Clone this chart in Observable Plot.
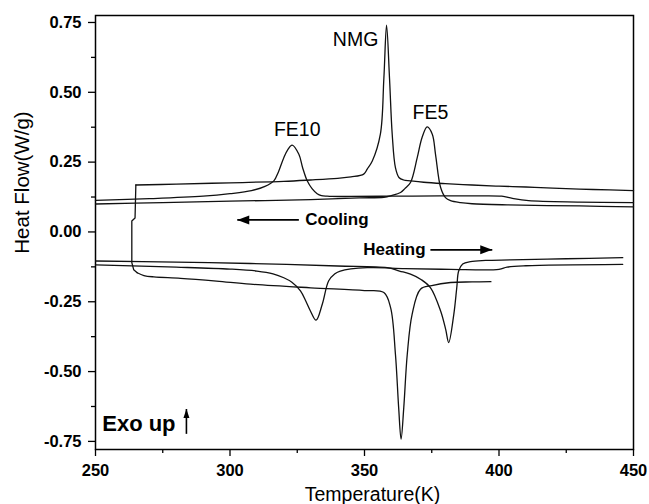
<!DOCTYPE html>
<html>
<head>
<meta charset="utf-8">
<script src="https://cdn.jsdelivr.net/npm/d3@7"></script>
<script src="https://cdn.jsdelivr.net/npm/@observablehq/plot@0.6"></script>
<style>
  html, body { margin: 0; padding: 0; background: #fff; }
  svg { display: block; }
</style>
</head>
<body>
<div id="chart"></div>
<script>
// ---------- data (Temperature K, Heat Flow W/g) ----------
// NMG cooling 450 -> 265 K
const nmgCoolT = [450, 435, 420, 410, 400, 390, 380, 372, 367, 364.5, 362.8, 361.5, 360.3, 359.3, 358.2, 357.2, 355.9, 352.9, 351, 349.7, 345, 340, 330, 320, 300, 280, 265];
const nmgCoolV = [0.148, 0.152, 0.157, 0.161, 0.164, 0.168, 0.173, 0.178, 0.183, 0.186, 0.195, 0.23, 0.35, 0.55, 0.74, 0.55, 0.35, 0.254, 0.225, 0.207, 0.197, 0.192, 0.186, 0.181, 0.176, 0.171, 0.168];
// NMG turn-around at the lowest temperature
const nmgTurnT = [265, 264.7, 263.5, 263.5, 264.2, 265.5];
const nmgTurnV = [0.168, 0.05, 0.039, -0.11, -0.135, -0.146];
// NMG heating 265.5 -> 397 K
const nmgHeatT = [265.5, 268, 271.7, 281.6, 295, 307.6, 330, 350, 357.2, 359.7, 361.5, 362.7, 363.6, 364.6, 365.9, 367.7, 370.8, 375, 382, 390, 397];
const nmgHeatV = [-0.146, -0.156, -0.161, -0.166, -0.176, -0.187, -0.2, -0.21, -0.217, -0.271, -0.438, -0.629, -0.742, -0.629, -0.438, -0.295, -0.205, -0.192, -0.181, -0.179, -0.178];

// FE10 cooling 450 -> 250 K
const fe10CoolT = [450, 430, 411, 405, 401, 390, 378, 360, 345, 338, 336.1, 334, 332.4, 330.5, 328.7, 327, 325.6, 323.1, 321.5, 320, 318, 316.3, 313, 308, 300, 290, 270, 250];
const fe10CoolV = [0.105, 0.107, 0.112, 0.12, 0.128, 0.129, 0.129, 0.128, 0.127, 0.127, 0.128, 0.13, 0.137, 0.155, 0.183, 0.23, 0.278, 0.311, 0.295, 0.266, 0.215, 0.183, 0.163, 0.148, 0.137, 0.128, 0.119, 0.113];
// FE10 heating 250 -> 446 K
const fe10HeatT = [250, 280, 300, 310, 316, 320, 323, 326.2, 328.3, 329.9, 332, 334.3, 336.7, 339, 341, 351, 365, 382, 400, 403, 410, 446];
const fe10HeatV = [-0.118, -0.126, -0.133, -0.14, -0.15, -0.164, -0.18, -0.211, -0.25, -0.283, -0.316, -0.259, -0.175, -0.15, -0.14, -0.128, -0.131, -0.134, -0.134, -0.126, -0.121, -0.116];

// FE5 cooling 450 -> 250 K
const fe5CoolT = [450, 430, 403, 390, 385.7, 382, 380.1, 378.3, 376.4, 375.2, 373.3, 371.4, 369.6, 367.1, 365, 363.4, 360, 357.2, 348, 330, 300, 275, 250];
const fe5CoolV = [0.09, 0.093, 0.097, 0.101, 0.105, 0.112, 0.123, 0.159, 0.278, 0.35, 0.376, 0.338, 0.266, 0.177, 0.155, 0.141, 0.13, 0.124, 0.122, 0.116, 0.11, 0.105, 0.1];
// FE5 heating 250 -> 446 K
const fe5HeatT = [250, 280, 307.6, 340, 358.4, 363, 367.1, 371, 374.5, 378.3, 380.2, 381.3, 383.2, 384.3, 385, 386.5, 389.4, 395, 404.3, 425, 446];
const fe5HeatV = [-0.104, -0.108, -0.113, -0.122, -0.128, -0.14, -0.151, -0.17, -0.199, -0.283, -0.35, -0.396, -0.295, -0.2, -0.14, -0.115, -0.106, -0.102, -0.1, -0.096, -0.092];

// axis ticks
const xTicks = [250, 300, 350, 400, 450];
const xMinorTicks = [275, 325, 375, 425];
const yTicks = [-0.75, -0.5, -0.25, 0, 0.25, 0.5, 0.75];
const yMinorTicks = [-0.625, -0.375, -0.125, 0.125, 0.375, 0.625];

// annotations (data coordinates)
const peakLabels = ["FE10", "NMG", "FE5"];
const peakLabelT = [325, 346.7, 374.5];
const peakLabelV = [0.365, 0.689, 0.428];
const dirLabels = ["Cooling", "Heating"];
const dirLabelT = [328, 372.7];
const dirLabelV = [0.045, -0.062];
const dirArrowFromT = [325.6, 374.5];
const dirArrowToT = [302.7, 397.5];
const dirArrowV = [0.043, -0.064];
const exoText = "Exo up";
const exoT = 252.5, exoV = -0.687;
const exoArrowT = 283.8, exoArrowFromV = -0.723, exoArrowToV = -0.634;

// ---------- build tables ----------
function series(name, T, V) { return T.map((t, i) => ({series: name, T: t, V: V[i]})); }
const smoothCurves = [
  ...series("NMG cooling", nmgCoolT, nmgCoolV),
  ...series("NMG heating", nmgHeatT, nmgHeatV),
  ...series("FE10 cooling", fe10CoolT, fe10CoolV),
  ...series("FE10 heating", fe10HeatT, fe10HeatV),
  ...series("FE5 cooling", fe5CoolT, fe5CoolV),
  ...series("FE5 heating", fe5HeatT, fe5HeatV)
];
const turn = series("NMG turn", nmgTurnT, nmgTurnV);
const peaks = peakLabels.map((t, i) => ({text: t, T: peakLabelT[i], V: peakLabelV[i]}));
const dirs = dirLabels.map((t, i) => ({text: t, T: dirLabelT[i], V: dirLabelV[i]}));
const arrows = dirLabels.map((t, i) => ({T1: dirArrowFromT[i], T2: dirArrowToT[i], V: dirArrowV[i], dir: dirArrowToT[i] < dirArrowFromT[i] ? "left" : "right"}));

// arrowhead symbols: tip at the anchor point
function head(dir, len, half) {
  return {draw(ctx) {
    if (dir === "left") { ctx.moveTo(0, 0); ctx.lineTo(len, -half); ctx.lineTo(len, half); }
    else if (dir === "right") { ctx.moveTo(0, 0); ctx.lineTo(-len, -half); ctx.lineTo(-len, half); }
    else { ctx.moveTo(0, 0); ctx.lineTo(-half, len); ctx.lineTo(half, len); }
    ctx.closePath();
  }};
}

const font = "'Liberation Sans', Arial, Helvetica, sans-serif";
const fmt = d => d.toFixed(2);

const chart = Plot.plot({
  width: 649,
  height: 504,
  marginLeft: 95,
  marginRight: 16,
  marginTop: 15,
  marginBottom: 55,
  style: {fontFamily: font, background: "#fff", color: "#000"},
  x: {domain: [250, 450]},
  y: {domain: [-0.779, 0.775]},
  marks: [
    Plot.axisX(xTicks, {tickSize: 7, tickPadding: 8, tickFormat: d => String(d), fontSize: 16.5, fontWeight: "bold", label: null, strokeWidth: 1.3}),
    Plot.axisX(xMinorTicks, {tickSize: 4, tickFormat: () => "", label: null, strokeWidth: 1.3}),
    Plot.axisY(yTicks, {tickSize: 7, tickPadding: 7, tickFormat: fmt, fontSize: 16.5, fontWeight: "bold", label: null, strokeWidth: 1.3}),
    Plot.axisY(yMinorTicks, {tickSize: 4, tickFormat: () => "", label: null, strokeWidth: 1.3}),
    Plot.text(["Temperature(K)"], {frameAnchor: "bottom", dy: 38, dx: 8, lineAnchor: "top", textAnchor: "middle", fontSize: 19.5, fill: "#000"}),
    Plot.text(["Heat Flow(W/g)"], {frameAnchor: "left", dx: -73, dy: -50, textAnchor: "middle", rotate: -90, fontSize: 20.5, fill: "#000"}),
    Plot.frame({stroke: "#000", strokeWidth: 1.5}),
    Plot.line(smoothCurves, {x: "T", y: "V", z: "series", stroke: "#111", strokeWidth: 1.3, curve: "catmull-rom"}),
    Plot.line(turn, {x: "T", y: "V", stroke: "#111", strokeWidth: 1.3, curve: "linear"}),
    Plot.text(peaks, {x: "T", y: "V", text: "text", fontSize: 19.5, fill: "#000"}),
    Plot.text(dirs.filter(d => d.text === "Cooling"), {x: "T", y: "V", text: "text", textAnchor: "start", fontSize: 17, fontWeight: "bold", fill: "#000"}),
    Plot.text(dirs.filter(d => d.text === "Heating"), {x: "T", y: "V", text: "text", textAnchor: "end", fontSize: 17, fontWeight: "bold", fill: "#000"}),
    Plot.link(arrows, {x1: "T1", x2: "T2", y1: "V", y2: "V", stroke: "#000", strokeWidth: 1.8}),
    Plot.dot(arrows.filter(a => a.dir === "left"), {x: "T2", y: "V", symbol: head("left", 12, 4.5), fill: "#000", stroke: null, r: 5}),
    Plot.dot(arrows.filter(a => a.dir === "right"), {x: "T2", y: "V", symbol: head("right", 12, 4.5), fill: "#000", stroke: null, r: 5}),
    Plot.text([exoText], {x: exoT, y: exoV, textAnchor: "start", fontSize: 22, fontWeight: "bold", fill: "#000"}),
    Plot.link([0], {x1: exoArrowT, x2: exoArrowT, y1: exoArrowFromV, y2: exoArrowToV, stroke: "#000", strokeWidth: 1.6}),
    Plot.dot([0], {x: exoArrowT, y: exoArrowToV, symbol: head("up", 9, 3), fill: "#000", stroke: null, r: 4})
  ]
});
document.getElementById("chart").appendChild(chart);
</script>
</body>
</html>
